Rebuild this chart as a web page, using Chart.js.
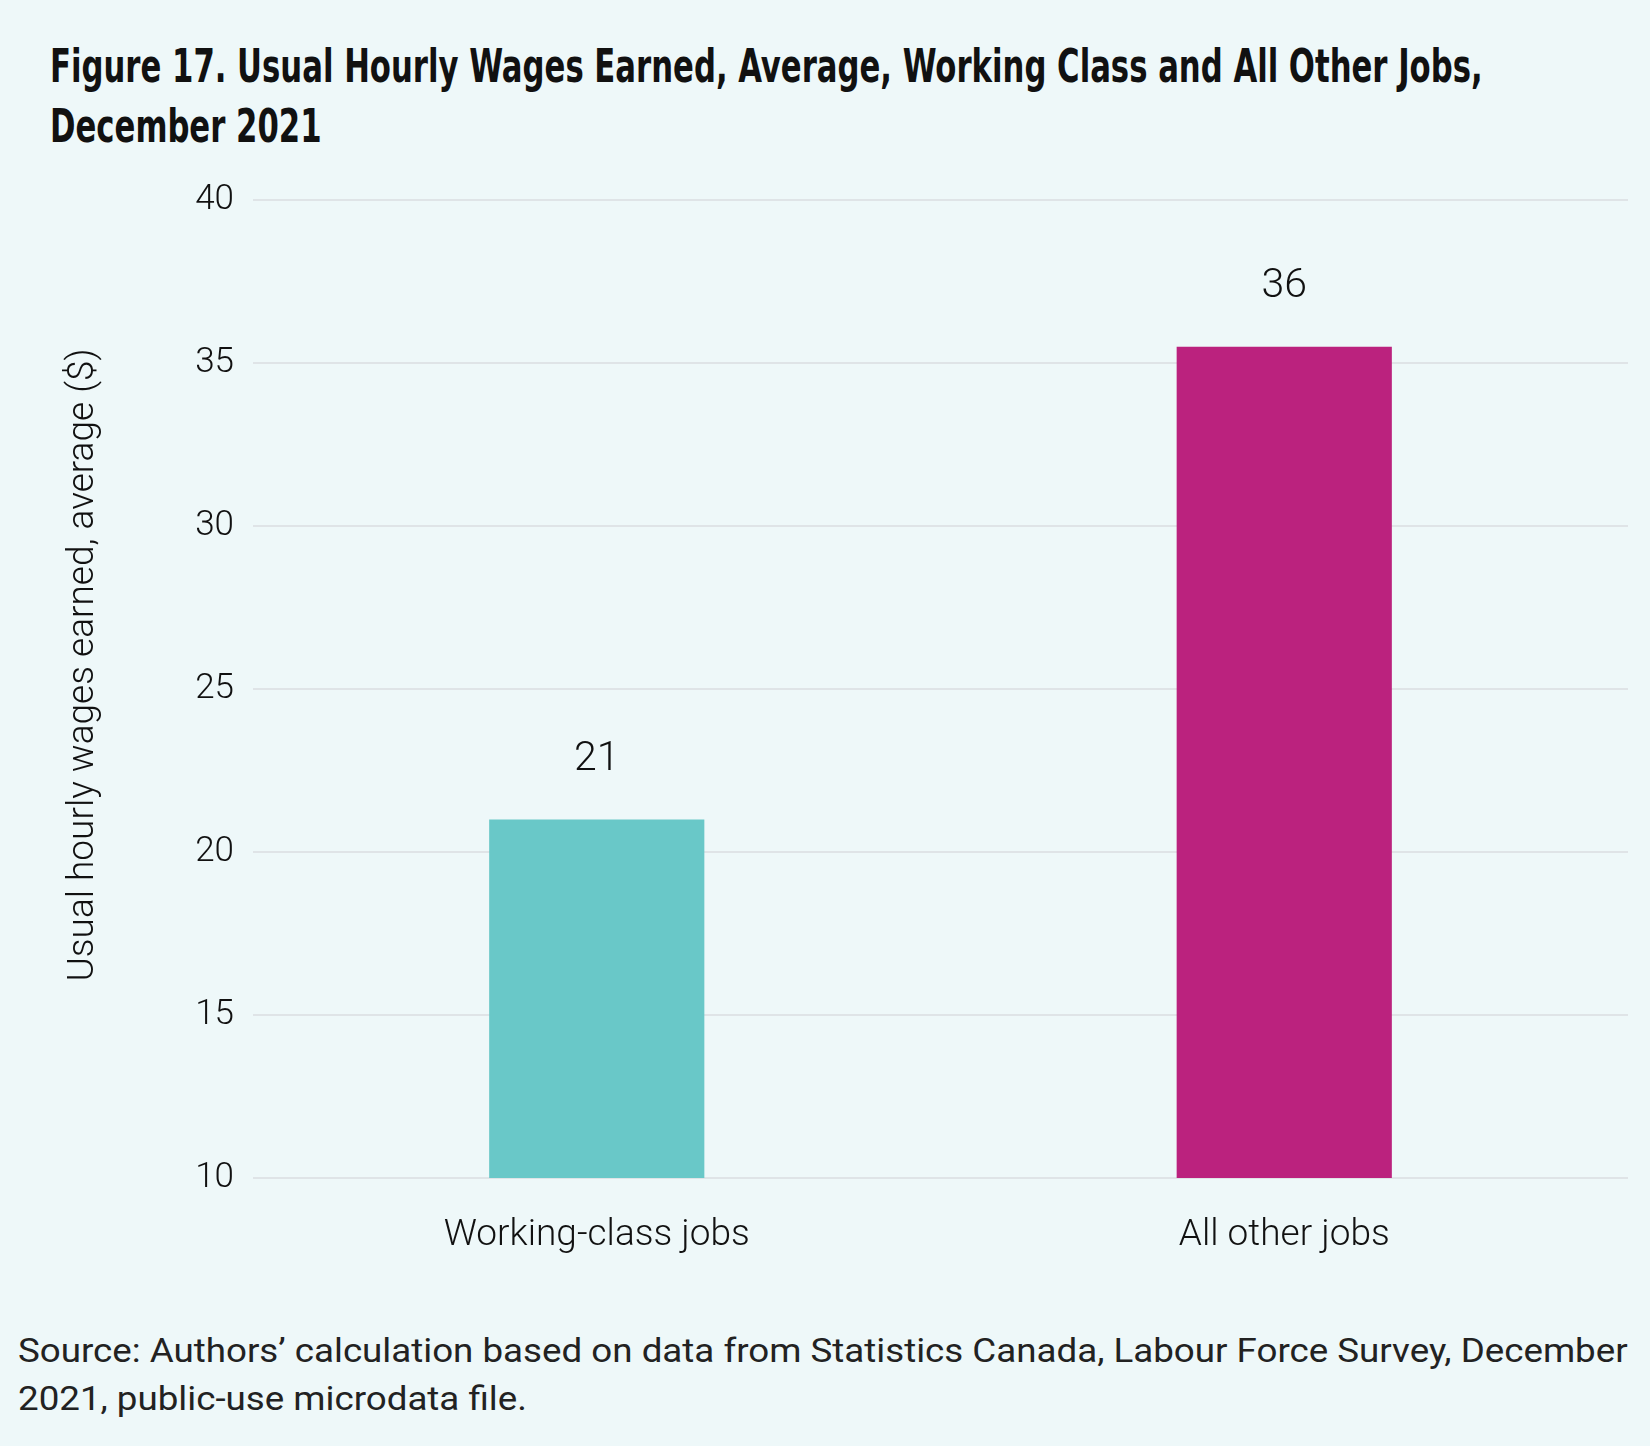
<!DOCTYPE html>
<html>
<head>
<meta charset="utf-8">
<script src="https://cdn.jsdelivr.net/npm/chart.js@4.4.1/dist/chart.umd.min.js"></script>
<style>
    html, body {
        margin: 0;
        padding: 0;
        background: #eef8f9;
    }
    body {
        width: 1650px;
        height: 1446px;
        position: relative;
        overflow: hidden;
    }
    #title {
        position: absolute;
        left: 50px;
        top: 36px;
        font-family: "Liberation Sans Narrow", "DejaVu Sans Condensed", sans-serif;
        font-weight: bold;
        font-size: 46px;
        line-height: 60px;
        color: #111;
        white-space: nowrap;
        transform-origin: 0 0;
    }
    #wrap {
        position: absolute;
        left: 0;
        top: 160px;
        width: 1650px;
        height: 1120px;
    }
    #source {
        position: absolute;
        left: 18px;
        top: 1326px;
        font-family: Roboto, sans-serif;
        font-size: 34px;
        line-height: 48px;
        color: #222;
        white-space: nowrap;
        transform-origin: 0 0;
    }
</style>
</head>
<body>
<div id="title">Figure 17. Usual Hourly Wages Earned, Average, Working Class and All Other Jobs,<br>December 2021</div>
<div id="wrap"><canvas id="wageChart"></canvas></div>
<div id="source">Source: Authors’ calculation based on data from Statistics Canada, Labour Force Survey, December<br>2021, public-use microdata file.</div>

<script>
// data
const categories = ["Working-class jobs", "All other jobs"];
const avgWages = [21, 35.5];
const barColors = ["#69c8c8", "#bb227e"];
const yTicks = [10, 15, 20, 25, 30, 35, 40];
const yTitle = "Usual hourly wages earned, average ($)";

// value labels above the bars + y axis title (sits a bit above centre)
const extraText = {
    id: "extraText",
    afterDatasetsDraw(chart) {
        const ctx = chart.ctx;
        const area = chart.chartArea;
        const meta = chart.getDatasetMeta(0);
        ctx.save();
        ctx.font = "300 41px Roboto, sans-serif";
        ctx.fillStyle = "#111";
        ctx.textAlign = "center";
        ctx.textBaseline = "middle";
        meta.data.forEach((bar, i) => {
            ctx.fillText(String(Math.round(avgWages[i])), bar.x, bar.y - 60);
        });

        ctx.font = "300 37px Roboto, sans-serif";
        ctx.translate(84, (area.top + area.bottom) / 2 - 24);
        ctx.rotate(-Math.PI / 2);
        ctx.fillText(yTitle, 0, 0);
        ctx.restore();
    }
};

// stretch a block of text to a given width
function fitWidth(id, target) {
    const el = document.getElementById(id);
    el.style.transform = "scaleX(" + (target / el.scrollWidth) + ")";
}

window.onload = function () {
    fitWidth("title", 1433);
    fitWidth("source", 1610);

    const ctx = document.getElementById("wageChart").getContext("2d");

    new Chart(ctx, {
        type: "bar",
        data: {
            labels: categories,
            datasets: [{
                data: avgWages,
                backgroundColor: barColors,
                categoryPercentage: 1,
                barPercentage: 0.313
            }]
        },
        options: {
            responsive: true,
            maintainAspectRatio: false,
            animation: false,
            devicePixelRatio: 1,
            layout: {
                padding: { left: 0, right: 22, top: 40, bottom: 0 }
            },
            plugins: {
                legend: { display: false },
                tooltip: { enabled: false }
            },
            scales: {
                x: {
                    grid: { display: false, drawTicks: false },
                    border: { display: false },
                    ticks: {
                        color: "#111",
                        font: { family: "Roboto", size: 37, weight: 300 },
                        padding: 36
                    },
                    afterFit(scale) {
                        scale.height = 102;
                    }
                },
                y: {
                    min: 10,
                    max: 40,
                    afterBuildTicks(scale) {
                        scale.ticks = yTicks.map(v => ({ value: v }));
                    },
                    grid: {
                        color: "#dfe4e7",
                        lineWidth: 2,
                        drawTicks: false
                    },
                    border: { display: false },
                    ticks: {
                        color: "#111",
                        font: { family: "Roboto", size: 35, weight: 300 },
                        padding: 19
                    },
                    afterFit(scale) {
                        scale.width = 253;
                    }
                }
            }
        },
        plugins: [extraText]
    });
};
</script>
</body>
</html>
